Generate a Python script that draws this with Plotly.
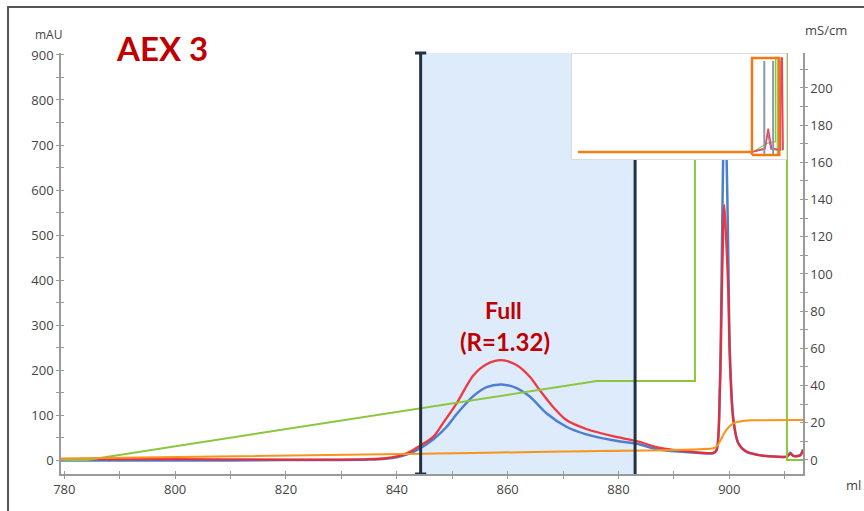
import plotly.graph_objects as go

# ---------------- data ----------------
# UV trace 1 (blue), mAU vs ml
blue_ml = [779.4, 790, 800, 810, 820, 830, 835, 838, 840, 842, 844.2, 846.6, 849.0, 851.0,
           853.8, 856.2, 858.9, 861.6, 864.0, 867.0, 870.6, 874.2, 879.0, 883.3, 887.5,
           893.5, 897.1, 897.7, 898.3, 898.6, 898.9, 899.2, 899.5, 899.8, 900.1, 900.7,
           901.6, 903.1, 905.9, 908.0, 910.4, 911.0, 911.6, 912.8, 913.3]
blue_mau = [-1, -1, -1, -1, 0, 0, 1, 3, 6, 13, 26, 46, 74, 105,
            142, 162, 168, 160, 141, 104, 74, 57, 44, 36, 23,
            17, 15, 22, 171, 393, 680, 800, 680, 467, 244, 96,
            38, 18, 10, 8, 7.5, 16, 9, 11, 24]

# UV trace 2 (red), mAU vs ml
red_ml = [779.4, 800, 820, 830, 835, 838, 840, 842, 844.2, 846.6, 848.5, 850.8, 853.8,
          856.2, 858.9, 861.6, 864.0, 865.8, 868.2, 870.6, 874.2, 879.0, 883.3, 887.5,
          893.5, 897.1, 897.7, 898.3, 898.6, 898.9, 899.1, 899.4, 899.8, 900.1, 900.7,
          901.6, 903.1, 905.9, 908.0, 910.4, 911.0, 911.6, 912.8, 913.3]
red_mau = [2, 2, 1, 1, 2, 4, 8, 16, 32, 52, 85, 126, 188,
           213, 222, 211, 185, 155, 118, 89, 69, 53, 42, 27,
           18, 16, 22, 150, 330, 510, 567, 500, 380, 220, 90,
           38, 19, 10, 8, 7.5, 14, 9, 10, 22]

# Conductivity-type traces on right axis (mS/cm)
green_ml = [779.4, 784.1, 876.1, 893.8, 893.8, 910.4, 910.4, 913.3]
green_ms = [0, 0, 42.5, 42.5, 240, 240, 0, 0]

orange_ml = [779.4, 844.3, 870.0, 897.1, 897.8, 898.5, 899.2, 900.1, 901.0, 901.9, 904.0, 913.3]
orange_ms = [0.8, 3.3, 4.6, 6.3, 7.5, 11, 15, 18.3, 20, 20.7, 21.3, 21.5]

# Collected fraction window (ml)
fraction_start = 844.3
fraction_end = 883.0

# Axis ranges / ticks
x_range = [779.4, 913.3]
left_range = [-31.0, 904.4]
right_range = [-7.53, 218.8]
x_ticks = [780, 800, 820, 840, 860, 880, 900]
left_ticks = [0, 100, 200, 300, 400, 500, 600, 700, 800, 900]
right_ticks = [0, 20, 40, 60, 80, 100, 120, 140, 160, 180, 200]

# Overview inset (arbitrary 0-100 units)
inset_bg_x = [0, 0, 100, 100, 0]
inset_bg_y = [0, 100, 100, 0, 0]
inset_orange_x = [3.2, 84.0]
inset_orange_y = [7.4, 7.4]
inset_green_x = [84.4, 90.6, 93.7, 94.7, 94.7, 95.5, 95.5, 97.0]
inset_green_y = [7.7, 15.5, 17.0, 17.0, 96.0, 96.0, 6.0, 6.0]
inset_red_x = [83.8, 89.8, 91.3, 92.9, 97.0, 97.4, 97.8, 98.2]
inset_red_y = [7.5, 11.1, 29.3, 11.1, 9.3, 95.4, 95.4, 9.3]
inset_blue_x = [83.8, 89.9, 91.1, 92.5, 96.8, 97.2, 97.6, 98.0]
inset_blue_y = [7.5, 10.0, 25.0, 10.0, 9.0, 92.0, 92.0, 9.0]
inset_gray1_x = [89.5, 89.5]
inset_gray2_x = [93.6, 93.6]
inset_gray_y = [4.6, 92.6]
inset_box_x = [83.8, 83.8, 96.4, 96.4, 83.8]
inset_box_y = [4.6, 95.4, 95.4, 4.6, 4.6]

# ---------------- styles ----------------
BLUE = "#4d7fd0"
RED = "#f0262c"
GREEN = "#8cc640"
ORANGE = "#f7941e"
SHADE = "#ddebfb"
FRAC = "#233240"
AXIS = "#9a9a9a"
TXT = "#444444"
DARKRED = "#c00000"

fig = go.Figure()

# shaded fraction window (main axes)
fig.add_trace(go.Scatter(
    x=[fraction_start, fraction_start, fraction_end, fraction_end, fraction_start],
    y=[left_range[0], left_range[1], left_range[1], left_range[0], left_range[0]],
    fill="toself", fillcolor=SHADE, line=dict(width=0), mode="lines",
    hoverinfo="skip", xaxis="x", yaxis="y"))

fig.add_trace(go.Scatter(x=blue_ml, y=blue_mau, mode="lines",
                         line=dict(color=BLUE, width=2.5, shape="spline", smoothing=0.8),
                         xaxis="x", yaxis="y"))
fig.add_trace(go.Scatter(x=red_ml, y=red_mau, mode="lines", opacity=0.9,
                         line=dict(color=RED, width=2.3, shape="spline", smoothing=0.8),
                         xaxis="x", yaxis="y"))

fig.add_trace(go.Scatter(x=green_ml, y=green_ms, mode="lines",
                         line=dict(color=GREEN, width=2), xaxis="x", yaxis="y2"))
fig.add_trace(go.Scatter(x=orange_ml, y=orange_ms, mode="lines",
                         line=dict(color=ORANGE, width=2, shape="spline", smoothing=0.6),
                         xaxis="x", yaxis="y2"))

# fraction boundary lines (left one with end caps)
fig.add_trace(go.Scatter(
    x=[fraction_start, fraction_start], y=[right_range[0], right_range[1]],
    mode="lines+markers", line=dict(color=FRAC, width=3),
    marker=dict(symbol="line-ew", size=8, line=dict(color=FRAC, width=3)),
    cliponaxis=False, xaxis="x", yaxis="y2"))
fig.add_trace(go.Scatter(
    x=[fraction_end, fraction_end], y=[right_range[0], right_range[1]],
    mode="lines", line=dict(color=FRAC, width=3), xaxis="x", yaxis="y2"))

# empty traces carrying the inner halves of the crossing ticks
fig.add_trace(go.Scatter(x=[], y=[], xaxis="x", yaxis="y4", hoverinfo="skip"))
fig.add_trace(go.Scatter(x=[], y=[], xaxis="x", yaxis="y5", hoverinfo="skip"))
fig.add_trace(go.Scatter(x=[], y=[], xaxis="x4", yaxis="y", hoverinfo="skip"))

# inset
fig.add_trace(go.Scatter(x=inset_bg_x, y=inset_bg_y, fill="toself", fillcolor="white",
                         mode="lines", line=dict(color="#dcdcdc", width=2),
                         xaxis="x3", yaxis="y3"))
fig.add_trace(go.Scatter(x=inset_orange_x, y=inset_orange_y, mode="lines",
                         line=dict(color="#f07f1a", width=2.5), xaxis="x3", yaxis="y3"))
fig.add_trace(go.Scatter(x=inset_green_x, y=inset_green_y, mode="lines",
                         line=dict(color=GREEN, width=1.2), xaxis="x3", yaxis="y3"))
fig.add_trace(go.Scatter(x=inset_blue_x, y=inset_blue_y, mode="lines",
                         line=dict(color="#8a7fc8", width=1.2), xaxis="x3", yaxis="y3"))
fig.add_trace(go.Scatter(x=inset_red_x, y=inset_red_y, mode="lines",
                         line=dict(color="#f0405a", width=1.5), xaxis="x3", yaxis="y3"))
for gx in (inset_gray1_x, inset_gray2_x):
    fig.add_trace(go.Scatter(x=gx, y=inset_gray_y, mode="lines",
                             line=dict(color="#8e98a4", width=2), xaxis="x3", yaxis="y3"))
fig.add_trace(go.Scatter(x=inset_box_x, y=inset_box_y, mode="lines",
                         line=dict(color="#ef7a14", width=2.5), xaxis="x3", yaxis="y3"))

tickfont = dict(family="Open Sans", size=13, color=TXT)


def outer(**kw):
    return dict(ticks="outside", ticklen=3, tickcolor=AXIS, tickwidth=1.2, showline=True,
                linecolor=AXIS, linewidth=1.5, showgrid=False, zeroline=False,
                tickfont=tickfont, **kw)


def inner(**kw):
    return dict(ticks="inside", ticklen=3, tickcolor=AXIS, tickwidth=1.2, showline=False,
                showgrid=False, zeroline=False, showticklabels=False, **kw)


fig.update_layout(
    width=864, height=511,
    margin=dict(l=61, r=61, t=53, b=37),
    plot_bgcolor="white", paper_bgcolor="white",
    showlegend=False,
    xaxis=outer(range=x_range, tickvals=x_ticks,
                minor=dict(tick0=780, dtick=10, ticks="outside", ticklen=3,
                           tickcolor=AXIS, showgrid=False)),
    xaxis4=inner(range=x_range, tickvals=x_ticks, overlaying="x", anchor="y", side="bottom",
                 minor=dict(tick0=780, dtick=10, ticks="inside", ticklen=3,
                            tickcolor=AXIS, showgrid=False)),
    yaxis=outer(range=left_range, tickvals=left_ticks,
                minor=dict(tick0=0, dtick=50, ticks="outside", ticklen=3,
                           tickcolor=AXIS, showgrid=False)),
    yaxis4=inner(range=left_range, tickvals=left_ticks, overlaying="y", side="left",
                 minor=dict(tick0=0, dtick=50, ticks="inside", ticklen=3,
                            tickcolor=AXIS, showgrid=False)),
    yaxis2=outer(range=right_range, tickvals=right_ticks, overlaying="y", side="right",
                 minor=dict(tick0=0, dtick=10, ticks="outside", ticklen=3,
                            tickcolor=AXIS, showgrid=False)),
    yaxis5=inner(range=right_range, tickvals=right_ticks, overlaying="y", side="right",
                 minor=dict(tick0=0, dtick=10, ticks="inside", ticklen=3,
                            tickcolor=AXIS, showgrid=False)),
    xaxis3=dict(domain=[0.6873, 0.9784], range=[0, 100], visible=False, anchor="y3"),
    yaxis3=dict(domain=[0.7458, 1.0], range=[0, 100], visible=False, anchor="x3"),
)

# outer frame
fig.add_shape(type="rect", xref="paper", yref="paper",
              x0=-0.0714, x1=1.3, y0=-0.3, y1=1.1093,
              line=dict(color="#555555", width=2), fillcolor="rgba(0,0,0,0)", layer="above")

# texts
fig.add_annotation(text="<b>AEX 3</b>", xref="paper", yref="paper", x=0.1361, y=1.0119,
                   xanchor="center", yanchor="middle", showarrow=False,
                   font=dict(family="Lato", size=33, color=DARKRED))
fig.add_annotation(text="<b>Full</b>", xref="x", yref="y", x=859.3, y=333,
                   xanchor="center", yanchor="middle", showarrow=False,
                   font=dict(family="Lato", size=23, color=DARKRED))
fig.add_annotation(text="<b>(R=1.32)</b>", xref="x", yref="y", x=859.6, y=264,
                   xanchor="center", yanchor="middle", showarrow=False,
                   font=dict(family="Lato", size=24, color=DARKRED))
fig.add_annotation(text="mAU", xref="paper", yref="paper", x=-0.0175, y=1.0428,
                   xanchor="center", yanchor="middle", showarrow=False,
                   font=dict(family="Open Sans", size=12, color=TXT))
fig.add_annotation(text="mS/cm", xref="paper", yref="paper", x=1.031, y=1.0546,
                   xanchor="center", yanchor="middle", showarrow=False,
                   font=dict(family="Open Sans", size=13, color=TXT))
fig.add_annotation(text="ml", xref="paper", yref="paper", x=1.0674, y=-0.026,
                   xanchor="center", yanchor="middle", showarrow=False,
                   font=dict(family="Open Sans", size=13, color=TXT))

fig.write_html("out.html", config={"displayModeBar": False},
               post_script="document.body.style.margin='0';")
